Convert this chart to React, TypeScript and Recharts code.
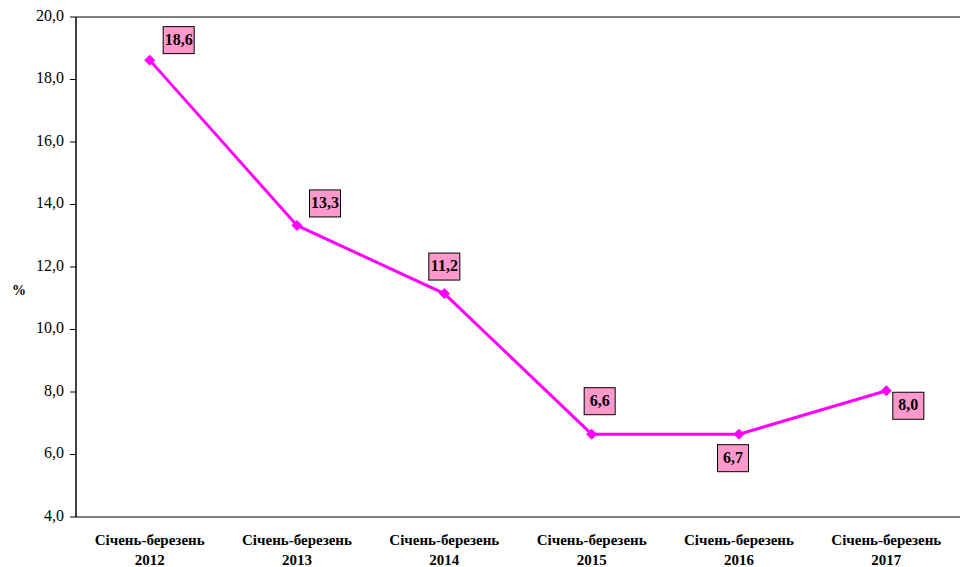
import React from 'react';
import { LineChart, Line, XAxis, YAxis, CartesianGrid, LabelList, ReferenceLine } from 'recharts';

const periods = ['Січень-березень', 'Січень-березень', 'Січень-березень', 'Січень-березень', 'Січень-березень', 'Січень-березень'];
const years = ['2012', '2013', '2014', '2015', '2016', '2017'];
const values = [18.62, 13.33, 11.15, 6.65, 6.65, 8.04];
const valueLabels = ['18,6', '13,3', '11,2', '6,6', '6,7', '8,0'];
const yTicks = [4, 6, 8, 10, 12, 14, 16, 18, 20];
const xCenters = [0.5, 1.5, 2.5, 3.5, 4.5, 5.5];
const xBounds = [0, 1, 2, 3, 4, 5, 6];

// label box offsets relative to the point (styling only)
const labelOffsets = [
  [29, -20],
  [28, -22],
  [0, -27],
  [8, -33],
  [-6, 24],
  [22, 15],
];

const data = years.map((yr, i) => ({
  x: xCenters[i],
  value: values[i],
  label: valueLabels[i],
}));

const FONT = "'Liberation Serif', 'Times New Roman', Times, 'DejaVu Serif', serif";

const Diamond = (props: any) => {
  const { cx, cy } = props;
  if (cx == null || cy == null) return null;
  const r = 5;
  return (
    <polygon
      points={`${cx},${cy - r} ${cx + r},${cy} ${cx},${cy + r} ${cx - r},${cy}`}
      fill="#FF00FF"
      stroke="#FF00FF"
    />
  );
};

const XTick = (props: any) => {
  const { x, y, payload } = props;
  const i = Math.floor(payload.value);
  return (
    <g>
      <text x={x} y={y + 17} textAnchor="middle" dominantBaseline="middle" fontFamily={FONT} fontWeight="bold" fontSize={15} fill="#000">
        {periods[i]}
      </text>
      <text x={x} y={y + 37} textAnchor="middle" dominantBaseline="middle" fontFamily={FONT} fontWeight="bold" fontSize={15} fill="#000">
        {years[i]}
      </text>
    </g>
  );
};

const EmptyTick = () => <g />;

const YTick = (props: any) => {
  const { x, y, payload } = props;
  return (
    <text x={x} y={y} textAnchor="end" dominantBaseline="middle" fontFamily={FONT} fontSize={16} fill="#000">
      {fmt(payload.value)}
    </text>
  );
};

const ValueLabel = (props: any) => {
  const { x, y, index, value } = props;
  const [dx, dy] = labelOffsets[index] || [0, -20];
  const cx = x + dx;
  const cy = y + dy;
  const w = 31;
  const h = 27;
  return (
    <g>
      <rect x={cx - w / 2} y={cy - h / 2} width={w} height={h} fill="#FF99CC" stroke="#000" strokeWidth={1} />
      <text x={cx} y={cy + 1} textAnchor="middle" dominantBaseline="middle" fontFamily={FONT} fontWeight="bold" fontSize={16} fill="#000">
        {value}
      </text>
    </g>
  );
};

const PercentLabel = (props: any) => {
  const { viewBox } = props;
  const cy = viewBox.y + viewBox.height / 2 + 25;
  return (
    <text x={12} y={cy} dominantBaseline="middle" fontFamily={FONT} fontWeight="bold" fontSize={14} fill="#000">
      %
    </text>
  );
};

function fmt(v: number) {
  return v.toFixed(1).replace('.', ',');
}

export default function App() {
  return (
    <div style={{ position: 'absolute', left: 0, top: 0, width: 967, height: 567, background: '#fff' }}>
      <LineChart width={967} height={567} data={data} margin={{ top: 17, right: 7, bottom: 0, left: 0 }}>
        <CartesianGrid vertical={false} stroke="#000" strokeWidth={1} />
        <XAxis
          xAxisId="marks"
          type="number"
          dataKey="x"
          domain={[0, 6]}
          ticks={xBounds}
          interval={0}
          axisLine={{ stroke: '#000', strokeWidth: 1.5 }}
          tickLine={{ stroke: '#000' }}
          tickSize={5}
          tick={EmptyTick}
          height={0}
        />
        <XAxis
          xAxisId="labels"
          type="number"
          dataKey="x"
          domain={[0, 6]}
          ticks={xCenters}
          interval={0}
          axisLine={false}
          tickLine={false}
          tick={XTick}
          height={50}
        />
        <YAxis
          yAxisId="left"
          domain={[4, 20]}
          ticks={yTicks}
          interval={0}
          width={76}
          axisLine={{ stroke: '#000', strokeWidth: 1.5 }}
          tickLine={{ stroke: '#000' }}
          tickSize={6}
          tickMargin={6}
          tick={YTick}
          label={<PercentLabel />}
        />
        <YAxis
          yAxisId="right"
          orientation="right"
          domain={[4, 20]}
          ticks={yTicks}
          width={0}
          axisLine={{ stroke: '#808080' }}
          tickLine={false}
          tick={false}
        />
        <ReferenceLine yAxisId="left" xAxisId="labels" y={20} stroke="#808080" />
        <Line
          xAxisId="labels"
          yAxisId="left"
          type="linear"
          dataKey="value"
          stroke="#FF00FF"
          strokeWidth={3}
          dot={<Diamond />}
          activeDot={false}
          isAnimationActive={false}
        >
          <LabelList dataKey="label" content={<ValueLabel />} />
        </Line>
      </LineChart>
    </div>
  );
}
